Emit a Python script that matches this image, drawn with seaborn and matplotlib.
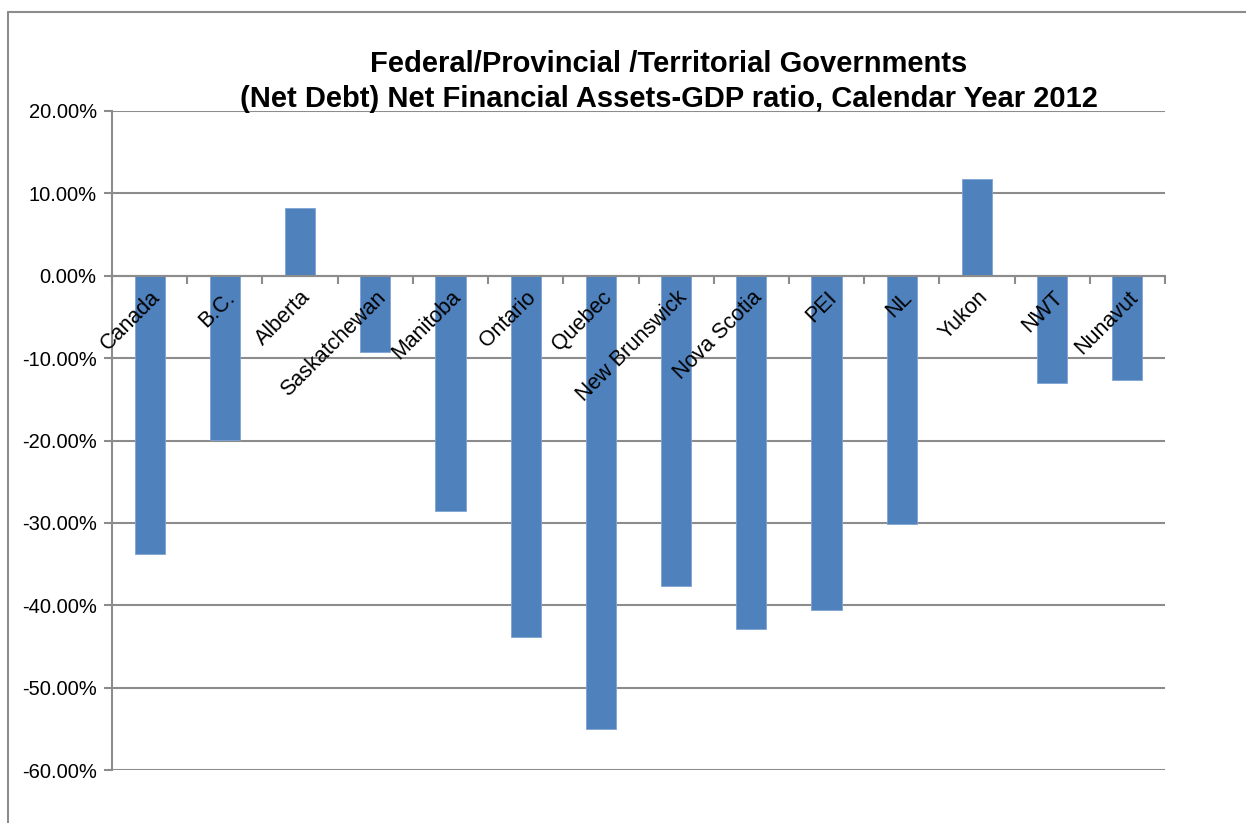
import numpy as np
import pandas as pd
import matplotlib
matplotlib.use("Agg")
import matplotlib.pyplot as plt
import seaborn as sns
from matplotlib.ticker import FuncFormatter, FixedLocator
from matplotlib.lines import Line2D

categories = ["Canada", "B.C.", "Alberta", "Saskatchewan", "Manitoba", "Ontario",
              "Quebec", "New Brunswick", "Nova Scotia", "PEI", "NL", "Yukon",
              "NWT", "Nunavut"]
values = [-33.8, -19.9, 8.2, -9.2, -28.5, -43.9, -55.0, -37.7, -42.9, -40.6,
          -30.1, 11.7, -13.0, -12.6]
y_ticks = [20, 10, 0, -10, -20, -30, -40, -50, -60]
title = ("Federal/Provincial /Territorial Governments\n"
         "(Net Debt) Net Financial Assets-GDP ratio, Calendar Year 2012")

sns.set_style("white")
plt.rcParams["font.family"] = ["Liberation Sans", "DejaVu Sans"]
plt.rcParams["text.color"] = "black"
plt.rcParams["xtick.color"] = "black"
plt.rcParams["ytick.color"] = "black"

W, H = 1246, 823
fig = plt.figure(figsize=(W / 100, H / 100), dpi=100)
ax = fig.add_axes([112 / W, (H - 770) / H, (1165 - 112) / W, (770 - 111) / H])

df = pd.DataFrame({"cat": categories, "val": values})
sns.barplot(data=df, x="cat", y="val", color="#4F81BD", saturation=1,
            width=0.4, ax=ax, edgecolor="#7FA3D3", linewidth=0.6)

grid_c = "#8C8C8C"
ax.set_ylim(-60, 20)
ax.set_xlim(-0.5, len(categories) - 0.5)
ax.yaxis.set_major_locator(FixedLocator(y_ticks))
ax.yaxis.set_major_formatter(FuncFormatter(lambda v, p: f"{v:.2f}%"))
ax.grid(axis="y", color=grid_c, linewidth=1.5)
ax.set_axisbelow(True)
ax.xaxis.set_zorder(4)  # category labels drawn on top of the bars

for s in ["top", "right"]:
    ax.spines[s].set_visible(False)
ax.spines["left"].set_color(grid_c)
ax.spines["left"].set_linewidth(1.5)
ax.spines["bottom"].set_position(("data", 0))
ax.spines["bottom"].set_color(grid_c)
ax.spines["bottom"].set_linewidth(1.5)
ax.spines["bottom"].set_zorder(3)

ax.set_xlabel("")
ax.set_ylabel("")
ax.tick_params(axis="y", length=6, width=1.5, color=grid_c, pad=5,
               labelsize=14.5, labelcolor="black", left=True)
ax.set_xticks(range(len(categories)))
ax.set_xticklabels(categories, rotation=45, ha="right", va="top",
                   rotation_mode="anchor", fontsize=15.5)
ax.tick_params(axis="x", which="major", length=0, pad=8, bottom=True,
               labelcolor="black")
ax.set_xticks(np.arange(-0.5, len(categories), 1.0), minor=True)
ax.tick_params(axis="x", which="minor", length=6, width=1.5, color=grid_c,
               direction="out", bottom=True)

fig.text(669 / W, 1 - 50 / H, title, ha="center", va="top", fontsize=21,
         fontweight="bold", linespacing=1.3, color="black")

# chart-area frame (cropped at the right and bottom)
fig.add_artist(Line2D([8 / W, 1.0], [1 - 12 / H, 1 - 12 / H],
                      transform=fig.transFigure, color="#8C8C8C", linewidth=1.5))
fig.add_artist(Line2D([8 / W, 8 / W], [0.0, 1 - 12 / H],
                      transform=fig.transFigure, color="#8C8C8C", linewidth=1.5))

fig.savefig("out.png", dpi=100, facecolor="white")
